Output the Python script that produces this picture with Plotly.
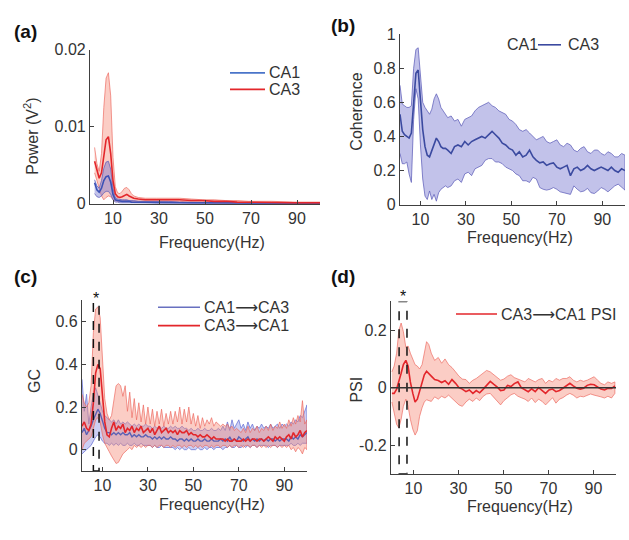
import plotly.graph_objects as go

FONT = "Liberation Sans, Arial, DejaVu Sans, sans-serif"

# ---------------- (a) Power spectra ----------------
POW_FREQ = [2, 3, 4, 5, 6, 7, 8, 9, 10, 11, 12, 13, 14, 15, 16, 17, 18, 19,
            21, 24, 29, 34, 39, 44, 49, 54, 59, 64, 69, 79, 89, 100]
CA3_POW_MEAN = [0.0055, 0.0042, 0.0033, 0.0040, 0.0062, 0.0083, 0.0087, 0.0065, 0.0030, 0.0013,
                0.0009, 0.0008, 0.0009, 0.0011, 0.0012, 0.0010, 0.0008, 0.0007,
                0.0006, 0.0005, 0.0005, 0.0005, 0.0005, 0.0004, 0.0004, 0.0003, 0.0003, 0.0002,
                0.0002, 0.00015, 0.0001, 0.0001]
CA3_POW_UP = [0.0073, 0.0052, 0.0042, 0.0065, 0.0125, 0.0163, 0.0170, 0.0140, 0.0060, 0.0022,
              0.0014, 0.0013, 0.0016, 0.0020, 0.0021, 0.0018, 0.0013, 0.0010,
              0.0008, 0.0007, 0.0007, 0.0007, 0.0007, 0.0006, 0.0005, 0.0005, 0.0004, 0.0004,
              0.0003, 0.0003, 0.0002, 0.0002]
CA3_POW_LO = [0.0040, 0.0030, 0.0022, 0.0010, 0.0005, 0.0008, 0.0010, 0.0009, 0.0005, 0.0004,
              0.0003, 0.0003, 0.0003, 0.0004, 0.0004, 0.0003, 0.0003, 0.0003,
              0.0003, 0.0003, 0.0003, 0.0003, 0.0003, 0.0002, 0.0002, 0.0002, 0.0001, 0.0001,
              0.0001, 0.00005, 0.00002, 0.0]
CA1_POW_MEAN = [0.0027, 0.0018, 0.0015, 0.0020, 0.0030, 0.0035, 0.0036, 0.0028, 0.0012, 0.0005,
                0.0004, 0.0003, 0.0003, 0.0003, 0.0003, 0.0003, 0.0002, 0.0002,
                0.0002, 0.0002, 0.00015, 0.00015, 0.00012, 0.0001, 0.0001, 0.0001, 0.00008, 0.00007,
                0.00006, 0.00005, 0.00004, 0.00003]
CA1_POW_UP = [0.0031, 0.0023, 0.0020, 0.0030, 0.0046, 0.0054, 0.0055, 0.0045, 0.0020, 0.0008,
              0.0006, 0.0005, 0.0005, 0.0005, 0.0005, 0.0004, 0.0004, 0.0004,
              0.0003, 0.0003, 0.0003, 0.0003, 0.0002, 0.0002, 0.0002, 0.00015, 0.00015, 0.00012,
              0.0001, 0.0001, 0.0001, 0.0001]
CA1_POW_LO = [0.0013, 0.0009, 0.0008, 0.0010, 0.0014, 0.0016, 0.0016, 0.0012, 0.0005, 0.0002,
              0.0002, 0.0001, 0.0001, 0.0001, 0.0001, 0.0001, 0.0001, 0.0001,
              0.0001, 0.0001, 0.00005, 0.00005, 0.00004, 0.00003, 0.00003, 0.00002, 0.00002, 0.00001,
              0.0, 0.0, 0.0, 0.0]

# ---------------- (b) Coherence ----------------
COH_FREQ = [1, 2, 3, 4, 5, 6, 7, 8, 9, 10, 11, 12, 13, 14, 15, 16, 17, 18, 19, 20, 21, 22,
            23.5, 25, 26.5, 28, 29.5, 31, 32.5, 34, 35.5, 37, 38.5, 40, 41.5, 43, 44.5, 46,
            47.5, 49, 50.5, 52, 53.5, 55, 56.5, 58, 59.5, 61, 62.5, 64, 65.5, 67, 68.5, 70,
            71.5, 73, 74.5, 76, 77.5, 79, 80.5, 82, 83.5, 85, 86.5, 88, 89.5, 91, 92.5, 94,
            95.5, 97, 98.5, 100]
COH_MEAN = [0.53, 0.43, 0.41, 0.40, 0.39, 0.42, 0.62, 0.77, 0.79, 0.62, 0.44, 0.34, 0.29, 0.28,
            0.32, 0.35, 0.39, 0.37, 0.34, 0.33, 0.33, 0.32,
            0.30, 0.34, 0.35, 0.34, 0.37, 0.35, 0.37, 0.38, 0.39, 0.40, 0.39, 0.41, 0.43, 0.41,
            0.39, 0.36, 0.35, 0.33, 0.32, 0.29, 0.31, 0.28, 0.29, 0.32, 0.28, 0.26, 0.245, 0.25,
            0.23, 0.24, 0.245, 0.22, 0.21, 0.22, 0.23, 0.17, 0.21, 0.22, 0.20, 0.21, 0.23, 0.21,
            0.20, 0.21, 0.22, 0.21, 0.20, 0.22, 0.20, 0.19, 0.21, 0.20]
COH_UP = [0.70, 0.59, 0.58, 0.57, 0.57, 0.58, 0.80, 0.91, 0.92, 0.78, 0.60, 0.57, 0.55, 0.53,
          0.56, 0.62, 0.65, 0.62, 0.57, 0.55, 0.53, 0.51,
          0.52, 0.49, 0.50, 0.46, 0.50, 0.51, 0.52, 0.55, 0.57, 0.58, 0.59, 0.60, 0.58, 0.57,
          0.55, 0.54, 0.53, 0.50, 0.49, 0.47, 0.44, 0.43, 0.44, 0.42, 0.40, 0.38, 0.39, 0.40,
          0.37, 0.36, 0.37, 0.38, 0.35, 0.34, 0.36, 0.35, 0.32, 0.31, 0.33, 0.34, 0.31, 0.30,
          0.32, 0.32, 0.30, 0.29, 0.31, 0.30, 0.28, 0.28, 0.30, 0.29]
COH_LO = [0.30, 0.24, 0.24, 0.25, 0.18, 0.13, 0.50, 0.68, 0.62, 0.35, 0.15, 0.05, 0.03, 0.08,
          0.03, 0.06, 0.02, 0.07, 0.09, 0.10, 0.11, 0.10,
          0.11, 0.14, 0.15, 0.13, 0.18, 0.19, 0.17, 0.21, 0.22, 0.23, 0.26, 0.27, 0.27, 0.25,
          0.25, 0.24, 0.22, 0.21, 0.20, 0.18, 0.17, 0.14, 0.14, 0.13, 0.16, 0.15, 0.10, 0.09,
          0.085, 0.09, 0.10, 0.09, 0.075, 0.07, 0.065, 0.06, 0.11, 0.09, 0.075, 0.08, 0.095, 0.07,
          0.065, 0.08, 0.10, 0.09, 0.075, 0.09, 0.11, 0.12, 0.10, 0.085]

# ---------------- (c) Granger causality ----------------
GC_FREQ = list(range(1, 101))
GC31_MEAN = [0.11, 0.13, 0.10, 0.09, 0.12, 0.22, 0.36, 0.40, 0.38, 0.26,
             0.13, 0.07, 0.06, 0.10, 0.13, 0.09, 0.11, 0.10, 0.12, 0.08,
             0.10, 0.09, 0.11, 0.08, 0.10, 0.09, 0.11, 0.08, 0.09, 0.10,
             0.08, 0.10, 0.07, 0.09, 0.11, 0.08, 0.09, 0.10, 0.08, 0.09,
             0.08, 0.09, 0.07, 0.09, 0.08, 0.08, 0.09, 0.07, 0.08, 0.07,
             0.07, 0.06, 0.07, 0.06, 0.06, 0.07, 0.06, 0.05, 0.06, 0.05,
             0.05, 0.05, 0.05, 0.04, 0.05, 0.04, 0.04, 0.05, 0.04, 0.04,
             0.04, 0.05, 0.04, 0.05, 0.04, 0.05, 0.05, 0.04, 0.05, 0.05,
             0.04, 0.05, 0.06, 0.05, 0.04, 0.06, 0.05, 0.06, 0.05, 0.04,
             0.06, 0.07, 0.05, 0.08, 0.06, 0.07, 0.09, 0.06, 0.08, 0.09]
GC31_UP = [0.26, 0.22, 0.20, 0.22, 0.30, 0.55, 0.66, 0.67, 0.62, 0.40,
           0.24, 0.17, 0.14, 0.16, 0.22, 0.30, 0.31, 0.30, 0.25, 0.30,
           0.18, 0.27, 0.15, 0.24, 0.14, 0.22, 0.13, 0.21, 0.12, 0.20,
           0.12, 0.19, 0.11, 0.18, 0.12, 0.19, 0.11, 0.17, 0.12, 0.18,
           0.12, 0.18, 0.13, 0.20, 0.12, 0.19, 0.13, 0.20, 0.12, 0.17,
           0.11, 0.16, 0.10, 0.15, 0.11, 0.14, 0.12, 0.15, 0.11, 0.13,
           0.12, 0.11, 0.12, 0.11, 0.12, 0.10, 0.11, 0.09, 0.10, 0.09,
           0.08, 0.10, 0.08, 0.11, 0.08, 0.10, 0.09, 0.11, 0.08, 0.10,
           0.09, 0.11, 0.09, 0.12, 0.09, 0.11, 0.10, 0.13, 0.10, 0.12,
           0.10, 0.14, 0.11, 0.15, 0.12, 0.16, 0.13, 0.23, 0.12, 0.14]
GC31_LO = [0.00, 0.03, 0.04, 0.05, 0.06, 0.10, 0.14, 0.15, 0.13, 0.07,
           0.03, 0.01, -0.01, -0.03, -0.05, -0.065, -0.06, -0.04, -0.02, -0.01,
           0.00, 0.01, 0.00, 0.02, 0.01, 0.02, 0.01, 0.02, 0.01, 0.02,
           0.02, 0.01, 0.02, 0.01, 0.02, 0.02, 0.01, 0.02, 0.02, 0.01,
           0.02, 0.01, 0.02, 0.02, 0.01, 0.02, 0.01, 0.02, 0.02, 0.01,
           0.02, 0.01, 0.02, 0.01, 0.02, 0.02, 0.01, 0.02, 0.01, 0.02,
           0.02, 0.01, 0.02, 0.02, 0.01, 0.02, 0.01, 0.02, 0.02, 0.01,
           0.02, 0.01, 0.02, 0.02, 0.01, 0.02, 0.02, 0.01, 0.02, 0.01,
           0.02, 0.01, 0.02, 0.01, 0.02, 0.02, 0.01, 0.02, 0.01, 0.02,
           0.01, 0.02, 0.00, 0.01, -0.01, 0.01, 0.00, -0.02, 0.01, 0.00]
GC13_MEAN = [0.08, 0.10, 0.07, 0.09, 0.11, 0.14, 0.17, 0.19, 0.17, 0.13,
             0.10, 0.08, 0.08, 0.07, 0.08, 0.07, 0.08, 0.07, 0.08, 0.07,
             0.07, 0.08, 0.06, 0.07, 0.06, 0.07, 0.06, 0.06, 0.07, 0.06,
             0.06, 0.05, 0.06, 0.05, 0.06, 0.05, 0.06, 0.05, 0.05, 0.06,
             0.05, 0.05, 0.04, 0.05, 0.05, 0.04, 0.05, 0.04, 0.05, 0.04,
             0.04, 0.05, 0.04, 0.04, 0.05, 0.04, 0.04, 0.05, 0.04, 0.04,
             0.04, 0.05, 0.04, 0.05, 0.04, 0.06, 0.04, 0.05, 0.04, 0.06,
             0.05, 0.04, 0.05, 0.06, 0.04, 0.05, 0.04, 0.05, 0.04, 0.05,
             0.04, 0.05, 0.04, 0.05, 0.05, 0.04, 0.05, 0.04, 0.05, 0.05,
             0.05, 0.04, 0.06, 0.05, 0.06, 0.05, 0.07, 0.06, 0.07, 0.08]
GC13_UP = [0.33, 0.18, 0.26, 0.12, 0.20, 0.26, 0.29, 0.26, 0.22, 0.18,
           0.16, 0.15, 0.14, 0.13, 0.14, 0.12, 0.14, 0.12, 0.13, 0.12,
           0.13, 0.12, 0.11, 0.12, 0.11, 0.12, 0.11, 0.11, 0.12, 0.11,
           0.11, 0.10, 0.11, 0.10, 0.11, 0.10, 0.11, 0.10, 0.10, 0.11,
           0.10, 0.11, 0.10, 0.10, 0.11, 0.10, 0.10, 0.09, 0.10, 0.09,
           0.09, 0.10, 0.09, 0.09, 0.10, 0.09, 0.09, 0.10, 0.09, 0.09,
           0.10, 0.09, 0.11, 0.09, 0.13, 0.09, 0.14, 0.10, 0.12, 0.14,
           0.10, 0.12, 0.09, 0.13, 0.10, 0.12, 0.09, 0.11, 0.10, 0.12,
           0.10, 0.11, 0.10, 0.12, 0.10, 0.11, 0.12, 0.10, 0.12, 0.11,
           0.12, 0.11, 0.13, 0.12, 0.14, 0.13, 0.16, 0.15, 0.18, 0.21]
GC13_LO = [-0.02, -0.01, 0.00, 0.01, 0.02, 0.04, 0.06, 0.07, 0.06, 0.04,
           0.03, 0.03, 0.02, 0.03, 0.02, 0.03, 0.02, 0.03, 0.02, 0.02,
           0.03, 0.02, 0.02, 0.03, 0.02, 0.02, 0.03, 0.02, 0.02, 0.02,
           0.02, 0.01, 0.02, 0.01, 0.01, 0.02, 0.01, 0.01, 0.01, 0.01,
           0.01, 0.00, 0.01, 0.00, 0.01, 0.00, 0.00, 0.01, 0.00, 0.00,
           0.00, 0.01, 0.00, 0.00, 0.01, 0.00, 0.01, 0.01, 0.00, 0.01,
           0.01, 0.01, 0.00, 0.01, 0.01, 0.02, 0.01, 0.01, 0.02, 0.01,
           0.01, 0.02, 0.01, 0.02, 0.01, 0.02, 0.02, 0.01, 0.02, 0.02,
           0.02, 0.02, 0.01, 0.02, 0.02, 0.02, 0.01, 0.02, 0.02, 0.02,
           0.02, 0.02, 0.03, 0.02, 0.02, 0.03, 0.02, 0.03, 0.03, 0.03]

# ---------------- (d) PSI ----------------
PSI_FREQ = [0.4, 1.4, 2.5, 3.5, 4.5, 5.5, 6.6, 7.6, 8.6, 9.7, 10.7, 11.7, 12.7, 13.8, 14.8,
            15.8, 16.8, 17.9, 19.4, 21.0, 22.5, 24.0, 25.6, 27.1, 28.7, 30.2, 31.7, 33.3,
            34.8, 36.4, 37.9, 39.4, 41.0, 42.5, 44.1, 45.6, 47.1, 48.7, 50.2, 51.8, 53.3,
            54.8, 56.4, 57.9, 59.5, 61.0, 62.5, 64.1, 65.6, 67.2, 68.7, 70.2, 71.8, 73.3,
            74.9, 76.4, 78.0, 79.5, 81.0, 82.6, 84.1, 85.6, 87.2, 88.7, 90.3, 91.8, 93.3,
            94.9, 96.4, 98.0, 99.5]
PSI_MEAN = [-0.02, -0.02, -0.005, 0.02, 0.05, 0.08, 0.095, 0.075, 0.02, -0.02, -0.05, -0.04,
            -0.015, 0.02, 0.045, 0.057, 0.05, 0.04,
            0.028, 0.025, 0.018, 0.024, 0.012, 0.028, 0.015, 0.0, -0.005, -0.014, -0.008,
            -0.02, -0.01, -0.018, -0.005, 0.01, 0.022, 0.012, 0.003, -0.01, -0.008, 0.008,
            0.004, 0.014, 0.02, 0.0, -0.008, -0.014, -0.004, -0.014, 0.0, -0.01, -0.02,
            -0.008, -0.005, -0.014, -0.01, -0.002, 0.008, 0.015, 0.006, -0.002, -0.005,
            -0.002, 0.008, 0.012, 0.01, 0.003, -0.005, -0.008, -0.002, -0.003, 0.006]
PSI_UP = [0.055, 0.075, 0.12, 0.20, 0.225, 0.195, 0.14, 0.145, 0.12, 0.095, 0.08, 0.075,
          0.065, 0.08, 0.12, 0.16, 0.15, 0.12,
          0.095, 0.105, 0.085, 0.10, 0.08, 0.07, 0.055, 0.04, 0.03, 0.028, 0.015,
          0.026, 0.032, 0.042, 0.05, 0.06, 0.055, 0.045, 0.035, 0.026, 0.03, 0.04,
          0.045, 0.035, 0.03, 0.025, 0.02, 0.032, 0.026, 0.02, 0.028, 0.032, 0.015,
          0.026, 0.02, 0.032, 0.026, 0.032, 0.032, 0.038, 0.026, 0.02, 0.026,
          0.022, 0.026, 0.032, 0.038, 0.026, 0.015, 0.01, 0.02, 0.015, 0.02]
PSI_LO = [-0.05, -0.085, -0.128, -0.14, -0.11, -0.065, -0.04, -0.065, -0.11, -0.145, -0.165,
          -0.15, -0.10, -0.07, -0.05, -0.042, -0.045, -0.048,
          -0.032, -0.04, -0.03, -0.036, -0.026, -0.036, -0.048, -0.06, -0.065, -0.05,
          -0.04, -0.048, -0.036, -0.045, -0.03, -0.022, -0.02, -0.03, -0.045, -0.06,
          -0.045, -0.035, -0.025, -0.02, -0.03, -0.035, -0.04, -0.048, -0.036, -0.052,
          -0.04, -0.048, -0.06, -0.048, -0.035, -0.054, -0.04, -0.035, -0.026, -0.02,
          -0.026, -0.036, -0.03, -0.032, -0.026, -0.022, -0.026, -0.03, -0.032, -0.036,
          -0.03, -0.036, -0.02]

FREQ_TICKS = [10, 30, 50, 70, 90]

RED = "#e3262b"
RED_FILL = "rgba(244,130,110,0.40)"
RED_EDGE = "rgba(236,100,90,0.65)"
BLUE_A = "#3d52b5"
BLUE_B = "#3b4aa0"
BLUE_FILL = "rgba(110,110,205,0.42)"
BLUE_EDGE = "rgba(95,95,185,0.75)"
BLUE_C = "#5a60b4"
BLUE_C_FILL = "rgba(120,130,225,0.38)"

fig = go.Figure()


def band(x, up, lo, fillc, edgec, xa, ya):
    fig.add_trace(go.Scatter(
        x=list(x) + list(x)[::-1], y=list(up) + list(lo)[::-1],
        fill="toself", fillcolor=fillc, mode="lines",
        line=dict(color=edgec, width=1), hoverinfo="skip",
        showlegend=False, xaxis=xa, yaxis=ya))


def line(x, y, color, xa, ya, width=1.6):
    fig.add_trace(go.Scatter(
        x=x, y=y, mode="lines", line=dict(color=color, width=width),
        showlegend=False, xaxis=xa, yaxis=ya))


# (a)
band(POW_FREQ, CA3_POW_UP, CA3_POW_LO, RED_FILL, RED_EDGE, "x", "y")
band(POW_FREQ, CA1_POW_UP, CA1_POW_LO, BLUE_FILL, BLUE_EDGE, "x", "y")
line(POW_FREQ, CA1_POW_MEAN, BLUE_A, "x", "y")
line(POW_FREQ, CA3_POW_MEAN, RED, "x", "y")
# (b)
band(COH_FREQ, COH_UP, COH_LO, BLUE_FILL, BLUE_EDGE, "x2", "y2")
line(COH_FREQ, COH_MEAN, BLUE_B, "x2", "y2")
# (c)
band(GC_FREQ, GC13_UP, GC13_LO, BLUE_C_FILL, "rgba(110,120,215,0.8)", "x3", "y3")
band(GC_FREQ, GC31_UP, GC31_LO, RED_FILL, RED_EDGE, "x3", "y3")
line(GC_FREQ, GC13_MEAN, BLUE_C, "x3", "y3", 1.4)
line(GC_FREQ, GC31_MEAN, RED, "x3", "y3", 1.6)
# (d)
band(PSI_FREQ, PSI_UP, PSI_LO, RED_FILL, RED_EDGE, "x4", "y4")
line(PSI_FREQ, PSI_MEAN, RED, "x4", "y4", 1.6)


def xax(domain, anchor, rng):
    return dict(domain=domain, anchor=anchor, range=rng, tickvals=FREQ_TICKS,
                showline=True, linecolor="#404040", linewidth=1.2, ticks="inside",
                ticklen=4, tickcolor="#404040", showgrid=False, zeroline=False,
                tickfont=dict(family=FONT, size=16, color="#333333"))


def yax(domain, anchor, rng, vals, texts):
    return dict(domain=domain, anchor=anchor, range=rng, tickvals=vals, ticktext=texts,
                showline=True, linecolor="#404040", linewidth=1.2, ticks="inside",
                ticklen=4, tickcolor="#404040", showgrid=False, zeroline=False,
                tickfont=dict(family=FONT, size=16, color="#333333"))


W, H = 629, 540


def px(x):
    return x / W


def py(y):
    return 1 - y / H


fig.update_layout(
    width=W, height=H, autosize=False, margin=dict(l=0, r=0, t=0, b=0),
    paper_bgcolor="white", plot_bgcolor="white", showlegend=False,
    font=dict(family=FONT, size=16, color="#333333"),
    xaxis=xax([px(90), px(320)], "y", [0, 100]),
    yaxis=yax([py(202), py(43)], "x", [0, 0.02], [0, 0.01, 0.02], ["0", "0.01", "0.02"]),
    xaxis2=xax([px(400), px(625)], "y2", [1, 100]),
    yaxis2=yax([py(203), py(27)], "x2", [0, 1], [0, 0.2, 0.4, 0.6, 0.8, 1],
               ["0", "0.2", "0.4", "0.6", "0.8", "1"]),
    xaxis3=xax([px(82), px(307)], "y3", [1, 100]),
    yaxis3=yax([py(478), py(302)], "x3", [-0.1, 0.7], [0, 0.2, 0.4, 0.6],
               ["0", "0.2", "0.4", "0.6"]),
    xaxis4=xax([px(391), px(616)], "y4", [0, 100]),
    yaxis4=yax([py(481), py(303)], "x4", [-0.3, 0.3], [-0.2, 0, 0.2], ["-0.2", "0", "0.2"]),
)

ann = []
shapes = []


def text(x, y, s, size=16, bold=False, angle=0, xanchor="center", color="#333333"):
    ann.append(dict(x=px(x), y=py(y), xref="paper", yref="paper", text=("<b>%s</b>" % s) if bold else s,
                    showarrow=False, xanchor=xanchor, yanchor="middle", textangle=angle,
                    font=dict(family=FONT, size=size, color=color)))


# panel labels
text(25, 24, "(a)", 19, True, color="#111111")
text(343, 18, "(b)", 19, True, color="#111111")
text(25, 277, "(c)", 19, True, color="#111111")
text(343, 277, "(d)", 19, True, color="#111111")

# axis titles
text(31, 133, "Power (V<sup>2</sup>)", angle=-90)
text(212, 242, "Frequency(Hz)")
text(357, 107, "Coherence", angle=-90)
text(520, 237, "Frequency(Hz)")
text(35, 385, "GC", angle=-90)
text(212, 513, "Frequency(Hz)")
text(357, 394, "PSI", angle=-90)
text(520, 515, "Frequency(Hz)")


def legline(x0, x1, y, color):
    shapes.append(dict(type="line", xref="paper", yref="paper", x0=px(x0), x1=px(x1),
                       y0=py(y), y1=py(y), line=dict(color=color, width=1.6)))


# legends
legline(230, 265, 67, "#4a74c9")
text(267, 67, "CA1", xanchor="left")
legline(230, 265, 84, "#e3262b")
text(267, 84, "CA3", xanchor="left")

text(505, 38, "CA1", xanchor="left")
legline(538, 561, 38, BLUE_B)
text(566, 38, "CA3", xanchor="left")

legline(158, 200, 309, "#6870c0")
text(202, 309, "CA1⟶CA3", xanchor="left")
legline(158, 200, 328, RED)
text(202, 328, "CA3⟶CA1", xanchor="left")

legline(456, 497, 316, RED)
text(499, 316, "CA3⟶CA1 PSI", xanchor="left")

# significance boxes and stars
shapes.append(dict(type="rect", xref="x3", yref="y3", x0=6, x1=8.5, y0=-0.1, y1=0.69,
                   line=dict(color="#111111", width=1.5, dash="dash")))
ann.append(dict(x=7.25, y=0.69, xref="x3", yref="y3", text="*", showarrow=False,
                yanchor="bottom", yshift=-6, font=dict(family=FONT, size=16, color="#111111")))
shapes.append(dict(type="rect", xref="x4", yref="y4", x0=3.6, x1=7.1, y0=-0.3, y1=0.3,
                   line=dict(color="#111111", width=1.5, dash="dash")))
ann.append(dict(x=5.35, y=0.3, xref="x4", yref="y4", text="*", showarrow=False,
                yanchor="bottom", yshift=-6, font=dict(family=FONT, size=16, color="#111111")))

# zero line in (d)
shapes.append(dict(type="line", xref="x4", yref="y4", x0=0, x1=100, y0=0, y1=0,
                   line=dict(color="#333333", width=1.5), layer="above"))

fig.update_layout(annotations=ann, shapes=shapes)

fig.write_html("out.html", default_width="629px", default_height="540px",
               config={"responsive": False, "displayModeBar": False},
               post_script="document.body.style.margin='0';document.body.style.padding='0';")
